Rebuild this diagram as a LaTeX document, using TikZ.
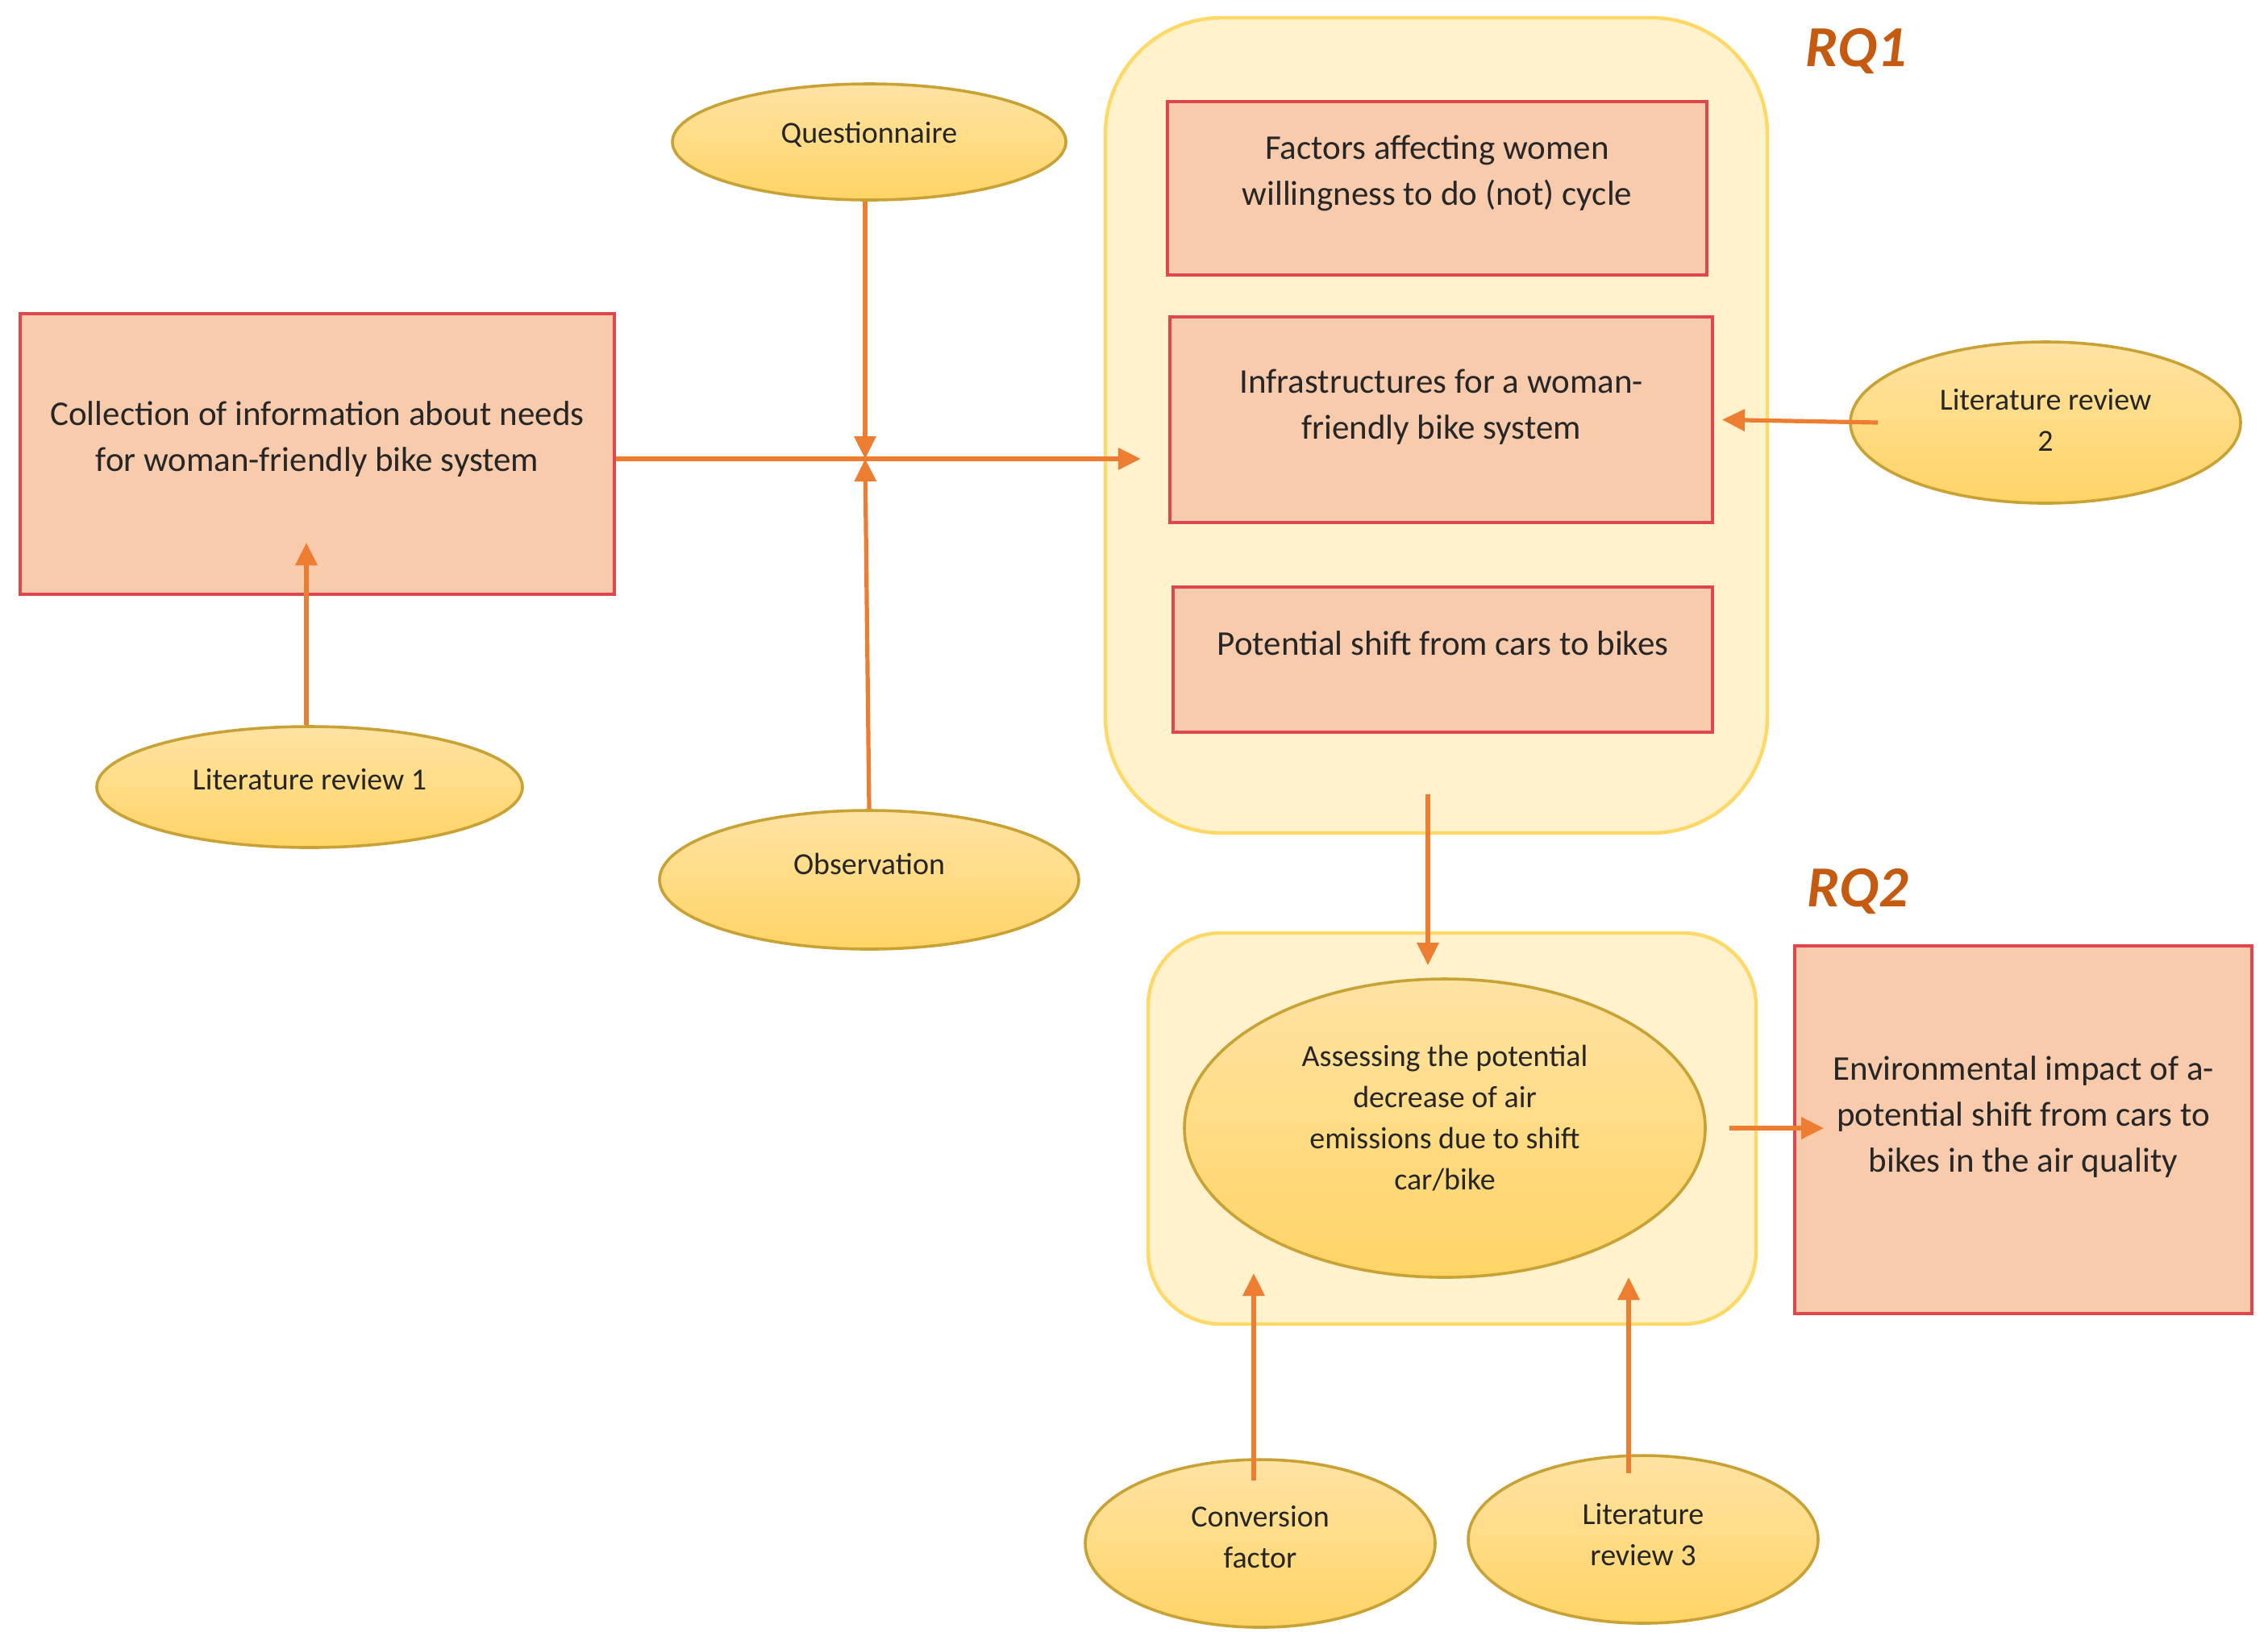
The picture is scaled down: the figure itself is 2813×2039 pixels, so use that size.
\documentclass[tikz,border=0pt]{standalone}
\usepackage{fontspec}
\setmainfont{Carlito}
\usetikzlibrary{arrows.meta,shapes.geometric,calc}
\definecolor{arrowc}{HTML}{ED7D31}
\definecolor{rqc}{HTML}{C55A11}
\definecolor{rectfill}{HTML}{F8CBAD}
\definecolor{rectdraw}{HTML}{E0474C}
\definecolor{elltop}{HTML}{FFE3A3}
\definecolor{ellbot}{HTML}{FFD466}
\definecolor{elldraw}{HTML}{C9A236}
\definecolor{contfill}{HTML}{FFF2CC}
\definecolor{contdraw}{HTML}{FFD966}
\definecolor{txt}{HTML}{262626}
\tikzset{
  rectbox/.style={draw=rectdraw, fill=rectfill, line width=1pt, rectangle, inner sep=0pt},
  ellbox/.style={draw=elldraw, top color=elltop, bottom color=ellbot, line width=0.9pt, ellipse, inner sep=0pt},
  contbox/.style={draw=contdraw, fill=contfill, line width=1.1pt, rectangle, inner sep=0pt},
  recttext/.style={align=center, text=txt, font=\fontsize{10.75}{14.25}\selectfont, inner sep=0pt},
  elltext/.style={align=center, text=txt, font=\fontsize{9.5}{12.75}\selectfont, inner sep=0pt},
  rqlabel/.style={text=rqc, font=\fontsize{18}{20}\selectfont\bfseries\itshape, inner sep=0pt},
  arr/.style={draw=arrowc, line width=1.3pt, -{Triangle[length=7pt,width=6.6pt]}}
}
\begin{document}
\begin{tikzpicture}[x=0.25pt,y=-0.25pt]
\useasboundingbox (0,0) rectangle (2813,2039);
% containers
\node[contbox, rounded corners=36pt, minimum width=205.25pt, minimum height=252.75pt] (rq1) at (1781.5,527.5) {};
\node[contbox, rounded corners=22.5pt, minimum width=188.5pt, minimum height=121.25pt] (rq2) at (1801,1399.5) {};
% rectangles
\node[rectbox, minimum width=184.25pt, minimum height=87pt] (coll) at (393.5,563) {};
\node[recttext] (collt) at ([yshift=4.5pt]coll.center) {Collection of information about needs\\for woman-friendly bike system};
\node[rectbox, minimum width=167.25pt, minimum height=53.75pt] (fac) at (1782.5,233.5) {};
\node[recttext] (fact) at ([yshift=4.75pt]fac.center) {Factors affecting women\\willingness to do (not) cycle};
\node[rectbox, minimum width=168.25pt, minimum height=63.75pt] (infra) at (1787.5,520.5) {};
\node[recttext] (infrat) at ([yshift=4pt]infra.center) {Infrastructures for a woman-\\friendly bike system};
\node[rectbox, minimum width=167.25pt, minimum height=45pt] (pot) at (1789.5,818) {};
\node[recttext] (pott) at ([yshift=5pt]pot.center) {Potential shift from cars to bikes};
\node[rectbox, minimum width=141.75pt, minimum height=114pt] (env) at (2509.5,1401) {};
\node[recttext] (envt) at ([yshift=4pt]env.center) {Environmental impact of a-\\potential shift from cars to\\bikes in the air quality};
% ellipses
\node[ellbox, minimum width=122pt, minimum height=36pt] (quest) at (1078,176) {};
\node[elltext] (questt) at ([yshift=2.25pt]quest.center) {Questionnaire};
\node[ellbox, minimum width=130pt, minimum height=43pt] (obs) at (1078,1091) {};
\node[elltext] (obst) at ([yshift=5pt]obs.center) {Observation};
\node[ellbox, minimum width=132pt, minimum height=37.5pt] (lit1) at (384,976) {};
\node[elltext] (lit1t) at ([yshift=2.25pt]lit1.center) {Literature review 1};
\node[ellbox, minimum width=121pt, minimum height=50pt] (lit2) at (2537,524) {};
\node[elltext] (lit2t) at ([yshift=0.75pt]lit2.center) {Literature review\\2};
\node[ellbox, minimum width=161.5pt, minimum height=92.5pt] (assess) at (1792,1399) {};
\node[elltext] (assesst) at ([yshift=3pt]assess.center) {Assessing the potential\\decrease of air\\emissions due to shift\\car/bike};
\node[ellbox, minimum width=108.5pt, minimum height=52pt] (conv) at (1563,1914) {};
\node[elltext] (convt) at ([yshift=2pt]conv.center) {Conversion\\factor};
\node[ellbox, minimum width=108.5pt, minimum height=52pt] (lit3) at (2038,1909) {};
\node[elltext] (lit3t) at ([yshift=1.5pt]lit3.center) {Literature\\review 3};
% labels
\node[rqlabel] (rq1l) at (2302,63) {RQ1};
\node[rqlabel] (rq2l) at (2304,1105) {RQ2};
% connectors
\coordinate (j) at (1073,569);
\draw[arr] (coll.east |- j) -- ([xshift=11.5pt]rq1.west |- j);
\draw[arr] (quest.south -| j) -- (j);
\draw[arr] (obs.north) -- (j);
\draw[arr] (lit1.north -| 380,0) -- (380,673);
\draw[arr] ([xshift=9pt]lit2.west) -- ([xshift=2.5pt]infra.east);
\draw[arr] (1771,985) -- (1771,1197);
\draw[arr] ([xshift=7pt]assess.east) -- ([xshift=9.5pt]env.west |- assess.east);
\draw[arr] ([yshift=-7pt]conv.north -| 1555,0) -- (1555,1579);
\draw[arr] ([yshift=-6pt]lit3.north -| 2020,0) -- (2020,1584);
\end{tikzpicture}
\end{document}
